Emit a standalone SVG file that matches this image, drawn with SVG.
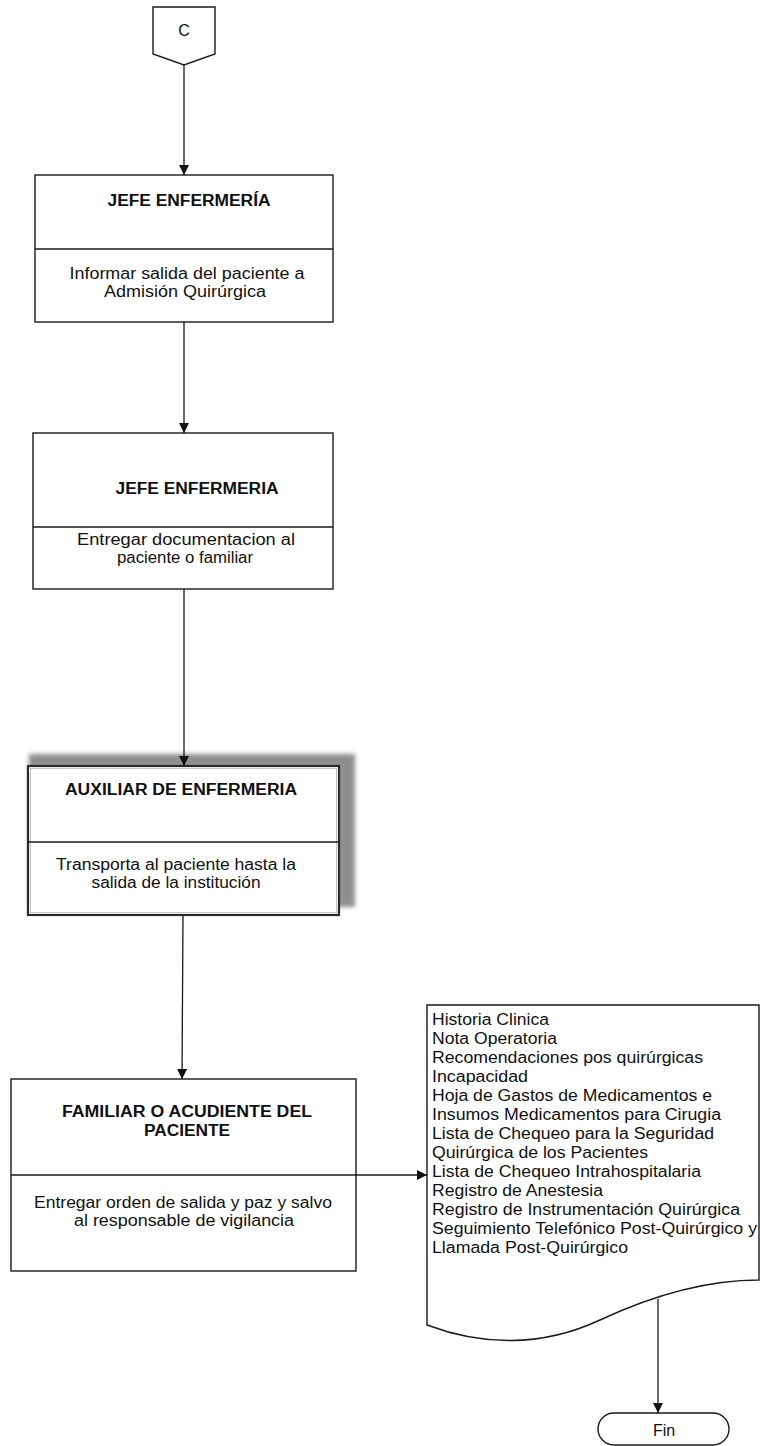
<svg xmlns="http://www.w3.org/2000/svg" width="760" height="1446" viewBox="0 0 760 1446">
  <defs>
    <marker id="arrow" viewBox="0 0 10 10" refX="10" refY="5" markerWidth="10" markerHeight="10" markerUnits="userSpaceOnUse" orient="auto">
      <path d="M0,0 L10,5 L0,10 Z" fill="#111"/>
    </marker>
    <filter id="soft" x="-10%" y="-10%" width="120%" height="120%">
      <feGaussianBlur stdDeviation="2.2"/>
    </filter>
    <style>
      .box { fill: #fff; stroke: #1a1a1a; stroke-width: 1.4; }
      .div { stroke: #1a1a1a; stroke-width: 1.3; fill: none; }
      .edge { stroke: #1a1a1a; stroke-width: 1.3; fill: none; marker-end: url(#arrow); }
      .title { font-family: "Liberation Sans", Arial, sans-serif; font-size: 16px; font-weight: bold; fill: #111; text-anchor: middle; }
      .body { font-family: "Liberation Sans", Arial, sans-serif; font-size: 16px; fill: #111; text-anchor: middle; }
      .list { font-family: "Liberation Sans", Arial, sans-serif; font-size: 16px; fill: #111; }
    </style>
  </defs>
  <rect width="760" height="1446" fill="#fff"/>

  <!-- off-page connector C -->
  <g id="connector-c">
    <path class="box" d="M153,7 H215 V54 L184,65 L153,54 Z"/>
    <text class="body" x="184" y="36" font-size="17">C</text>
  </g>

  <!-- step 1 -->
  <g id="jefe-enfermeria-1">
    <rect class="box" x="35" y="175" width="298" height="147"/>
    <line class="div" x1="35" y1="249" x2="333" y2="249"/>
    <text class="title" x="189" y="206" textLength="163" lengthAdjust="spacingAndGlyphs">JEFE ENFERMERÍA</text>
    <text class="body" x="187" y="279" textLength="235" lengthAdjust="spacingAndGlyphs">Informar salida del paciente  a</text>
    <text class="body" x="185" y="297" textLength="162" lengthAdjust="spacingAndGlyphs">Admisión Quirúrgica</text>
  </g>

  <!-- step 2 -->
  <g id="jefe-enfermeria-2">
    <rect class="box" x="33" y="433" width="300" height="156"/>
    <line class="div" x1="33" y1="527" x2="333" y2="527"/>
    <text class="title" x="197" y="494" textLength="163" lengthAdjust="spacingAndGlyphs">JEFE ENFERMERIA</text>
    <text class="body" x="186" y="545" textLength="218" lengthAdjust="spacingAndGlyphs">Entregar documentacion al</text>
    <text class="body" x="185" y="563" textLength="136" lengthAdjust="spacingAndGlyphs">paciente o familiar</text>
  </g>

  <!-- step 3 (shadowed) -->
  <g id="auxiliar-enfermeria">
    <rect x="29" y="754" width="326" height="153" fill="#8f8f8f" filter="url(#soft)"/>
    <rect x="28" y="766" width="311" height="149" fill="#fff" stroke="#2a2a2a" stroke-width="2.2"/>
    <rect x="30.5" y="768.5" width="306" height="144" fill="none" stroke="#c4c4c4" stroke-width="1"/>
    <line class="div" x1="28" y1="842" x2="339" y2="842"/>
    <text class="title" x="181" y="795" textLength="232" lengthAdjust="spacingAndGlyphs">AUXILIAR  DE ENFERMERIA</text>
    <text class="body" x="176" y="870" textLength="240" lengthAdjust="spacingAndGlyphs">Transporta al paciente hasta la</text>
    <text class="body" x="176" y="888" textLength="169" lengthAdjust="spacingAndGlyphs">salida de la institución</text>
  </g>

  <!-- step 4 -->
  <g id="familiar-acudiente">
    <rect class="box" x="11" y="1079" width="345" height="192"/>
    <line class="div" x1="11" y1="1175" x2="356" y2="1175"/>
    <text class="title" x="187" y="1117" textLength="250" lengthAdjust="spacingAndGlyphs">FAMILIAR  O ACUDIENTE DEL</text>
    <text class="title" x="187" y="1136" textLength="86" lengthAdjust="spacingAndGlyphs">PACIENTE</text>
    <text class="body" x="183" y="1208" textLength="298" lengthAdjust="spacingAndGlyphs">Entregar orden de salida y paz y salvo</text>
    <text class="body" x="184" y="1226" textLength="220" lengthAdjust="spacingAndGlyphs">al responsable de vigilancia</text>
  </g>

  <!-- documents delivered -->
  <g id="documentos">
    <path class="box" d="M427,1005 H759 V1280 C710,1280 660,1292 600,1320 C540,1348 480,1345 427,1325 Z"/>
    <text class="list" x="432" y="1024.5" textLength="117" lengthAdjust="spacingAndGlyphs">Historia Clinica</text>
    <text class="list" x="432" y="1043.5" textLength="125" lengthAdjust="spacingAndGlyphs">Nota Operatoria</text>
    <text class="list" x="432" y="1062.5" textLength="271" lengthAdjust="spacingAndGlyphs">Recomendaciones pos quirúrgicas</text>
    <text class="list" x="432" y="1081.5" textLength="96" lengthAdjust="spacingAndGlyphs">Incapacidad</text>
    <text class="list" x="432" y="1100.5" textLength="280" lengthAdjust="spacingAndGlyphs">Hoja de Gastos de Medicamentos e</text>
    <text class="list" x="432" y="1119.5" textLength="289" lengthAdjust="spacingAndGlyphs">Insumos Medicamentos para Cirugia</text>
    <text class="list" x="432" y="1138.5" textLength="282" lengthAdjust="spacingAndGlyphs">Lista de Chequeo para la Seguridad</text>
    <text class="list" x="432" y="1157.5" textLength="216" lengthAdjust="spacingAndGlyphs">Quirúrgica de los Pacientes</text>
    <text class="list" x="432" y="1176.5" textLength="269" lengthAdjust="spacingAndGlyphs">Lista de Chequeo Intrahospitalaria</text>
    <text class="list" x="432" y="1195.5" textLength="171" lengthAdjust="spacingAndGlyphs">Registro de Anestesia</text>
    <text class="list" x="432" y="1214.5" textLength="308" lengthAdjust="spacingAndGlyphs">Registro de Instrumentación Quirúrgica</text>
    <text class="list" x="432" y="1233.5" textLength="325" lengthAdjust="spacingAndGlyphs">Seguimiento Telefónico Post-Quirúrgico y</text>
    <text class="list" x="432" y="1252.5" textLength="196" lengthAdjust="spacingAndGlyphs">Llamada Post-Quirúrgico</text>
  </g>

  <!-- terminator -->
  <g id="fin">
    <rect class="box" x="598" y="1413" width="131" height="32" rx="16" ry="16"/>
    <text class="body" x="664" y="1436" font-size="17">Fin</text>
  </g>

  <!-- flow lines -->
  <g id="connectors">
    <line class="edge" x1="184" y1="65" x2="184" y2="175"/>
    <line class="edge" x1="184" y1="322" x2="184" y2="433"/>
    <line class="edge" x1="184" y1="589" x2="184" y2="766"/>
    <line class="edge" x1="183" y1="915" x2="182" y2="1079"/>
    <line class="edge" x1="356" y1="1175" x2="427" y2="1175"/>
    <line class="edge" x1="658" y1="1299" x2="658" y2="1413"/>
  </g>
</svg>
